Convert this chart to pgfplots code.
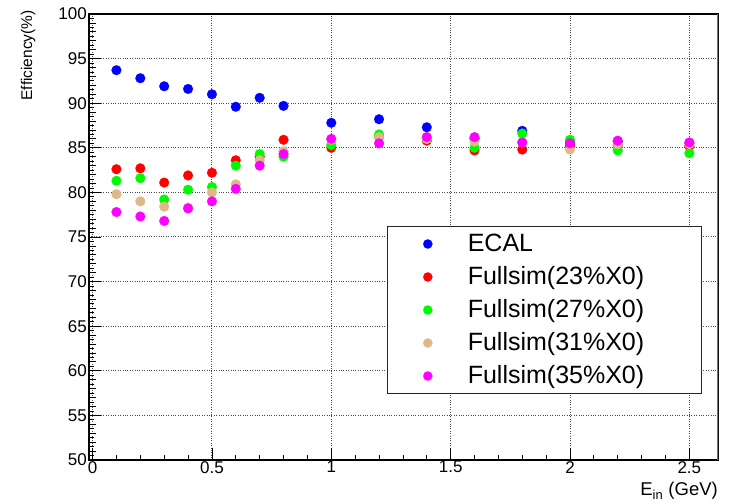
\documentclass[border=0pt]{standalone}
\usepackage{fontspec}
\setmainfont{Liberation Sans}
\usepackage{pgfplots}
\pgfplotsset{compat=1.18}
\definecolor{tanc}{RGB}{222,184,135}
\definecolor{mygreen}{RGB}{0,250,0}
\definecolor{mymag}{RGB}{255,0,255}
\definecolor{myblue}{RGB}{0,0,255}
\definecolor{myred}{RGB}{255,0,0}

\begin{document}
\begin{tikzpicture}
\path[use as bounding box] (-89pt,-43pt) rectangle (642pt,460pt);
\begin{axis}[
  at={(0,0)}, anchor=south west,
  scale only axis, width=629pt, height=446pt,
  xmin=-0.015, xmax=2.62, ymin=50, ymax=100,
  xtick={0,0.5,1,1.5,2,2.5},
  ytick={50,55,60,65,70,75,80,85,90,95,100},
  minor x tick num=4, minor y tick num=9,
  extra y ticks={51,52,53,54,56,57,58,59,61,62,63,64,66,67,68,69,71,72,73,74,76,77,78,79,81,82,83,84,86,87,88,89,91,92,93,94,96,97,98,99},
  extra y tick labels={},
  extra y tick style={grid=none, major tick length=7pt, tick style={line width=0.8pt}},
  tick pos=left, tick align=inside,
  major tick length=12pt, minor tick length=4.5pt,
  tick style={black, line width=0.8pt},
  axis line style={black, line width=1.3pt},
  grid=major,
  major grid style={black!70, dotted, line width=1pt},
  /pgf/number format/assume math mode=true,
  tick label style={font=\fontsize{17}{17}\selectfont},
  yticklabel style={anchor=east, inner sep=0pt, xshift=-2pt},
  xticklabel style={anchor=north, inner sep=0pt, yshift=-1pt},
  xlabel={E\textsubscript{in} (GeV)},
  xlabel style={at={(rel axis cs:1,0)}, anchor=north east, inner sep=0pt, yshift=-22pt, font=\fontsize{18.5}{18.5}\selectfont},
  ylabel={Efficiency(\%)},
  ylabel style={at={(rel axis cs:0,1)}, anchor=east, inner sep=0pt, xshift=4pt, yshift=61pt, font=\fontsize{15.5}{15.5}\selectfont},
  legend style={at={(0.474,0.525)}, anchor=north west, draw=black!85, line width=1.3pt,
    inner xsep=20pt, inner ysep=5.5pt, font=\fontsize{25}{25}\selectfont,
    row sep=9pt, column sep=20pt, cells={anchor=west},
    nodes={inner sep=0pt, text height=19pt, text depth=5pt}},
  legend cell align=left,
  legend image code/.code={\path[draw=none, fill=none] (0pt,0pt) rectangle (40pt,0pt);
    \begin{scope}[shift={(20pt,0pt)}, line width=0.2pt]\pgfsetplotmarksize{4.6pt}\pgfuseplotmark{*}\end{scope}},
]
\addplot[only marks, mark=*, mark size=4.9pt, color=myblue, mark options={line width=0.2pt}] coordinates {
(0.1,93.7) (0.2,92.8) (0.3,91.9) (0.4,91.6) (0.5,91.0) (0.6,89.6) (0.7,90.6) (0.8,89.7)
(1.0,87.8) (1.2,88.2) (1.4,87.3) (1.6,86.0) (1.8,86.9) (2.0,85.6) (2.2,85.7) (2.5,85.5)};
\addlegendentry{ECAL}
\addplot[only marks, mark=*, mark size=4.9pt, color=myred, mark options={line width=0.2pt}] coordinates {
(0.1,82.6) (0.2,82.7) (0.3,81.1) (0.4,81.9) (0.5,82.2) (0.6,83.6) (0.7,84.0) (0.8,85.9)
(1.0,85.0) (1.2,86.2) (1.4,85.8) (1.6,84.7) (1.8,84.8) (2.0,85.2) (2.2,85.3) (2.5,85.2)};
\addlegendentry{Fullsim(23\%X0)\hspace*{37pt}}
\addplot[only marks, mark=*, mark size=4.9pt, color=mygreen, mark options={line width=0.2pt}] coordinates {
(0.1,81.3) (0.2,81.6) (0.3,79.2) (0.4,80.3) (0.5,80.6) (0.6,83.0) (0.7,84.3) (0.8,84.0)
(1.0,85.3) (1.2,86.5) (1.4,86.0) (1.6,85.0) (1.8,86.6) (2.0,85.9) (2.2,84.7) (2.5,84.4)};
\addlegendentry{Fullsim(27\%X0)}
\addplot[only marks, mark=*, mark size=4.9pt, color=tanc, mark options={line width=0.2pt}] coordinates {
(0.1,79.8) (0.2,79.0) (0.3,78.4) (0.4,78.3) (0.5,80.0) (0.6,80.9) (0.7,83.6) (0.8,84.6)
(1.0,85.9) (1.2,86.2) (1.4,86.0) (1.6,85.7) (1.8,85.6) (2.0,84.8) (2.2,85.4) (2.5,85.4)};
\addlegendentry{Fullsim(31\%X0)}
\addplot[only marks, mark=*, mark size=4.9pt, color=mymag, mark options={line width=0.2pt}] coordinates {
(0.1,77.8) (0.2,77.3) (0.3,76.8) (0.4,78.2) (0.5,79.0) (0.6,80.4) (0.7,83.0) (0.8,84.3)
(1.0,86.0) (1.2,85.5) (1.4,86.2) (1.6,86.2) (1.8,85.6) (2.0,85.5) (2.2,85.8) (2.5,85.6)};
\addlegendentry{Fullsim(35\%X0)}
\draw[black!55, line width=2.2pt] (rel axis cs:1,0) -- (rel axis cs:1,1);
\end{axis}
\end{tikzpicture}
\end{document}
